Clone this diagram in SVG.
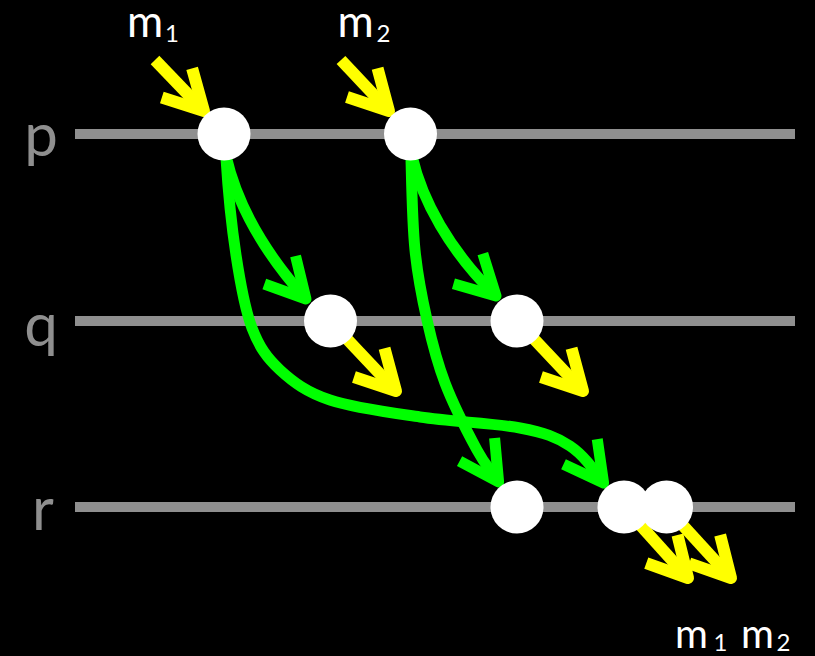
<svg xmlns="http://www.w3.org/2000/svg" width="815" height="656" viewBox="0 0 815 656">
<style>
.bg{fill:#000}
.tl{stroke:#8f8f8f;stroke-width:10;fill:none}
.g{stroke:#00ff00;stroke-width:11;fill:none}
.y{stroke:#ffff00;stroke-width:12;fill:none}
.ev{fill:#fff}
.lab{font-family:Lato,"Open Sans","Liberation Sans",sans-serif;fill:#8f8f8f;font-size:60px;text-anchor:middle}
.msg{font-family:Lato,"Open Sans","Liberation Sans",sans-serif;fill:#fff;text-anchor:middle}
</style>
<defs>
<marker id="hg" markerUnits="userSpaceOnUse" orient="auto" overflow="visible" markerWidth="10" markerHeight="10">
<path d="M-39,-21 L0,0 L-39,21" fill="none" stroke="#00ff00" stroke-width="11" stroke-linejoin="round"/>
</marker>
<marker id="hy" markerUnits="userSpaceOnUse" orient="auto" overflow="visible" markerWidth="10" markerHeight="10">
<path d="M-39,-21 L0,0 L-39,21" fill="none" stroke="#ffff00" stroke-width="12" stroke-linejoin="round"/>
</marker>
</defs>
<rect class="bg" x="0" y="0" width="815" height="656"/>
<g id="timelines">
<line class="tl" x1="75" y1="134" x2="795" y2="134"/>
<line class="tl" x1="75" y1="321" x2="795" y2="321"/>
<line class="tl" x1="75" y1="507" x2="795" y2="507"/>
<text class="lab" x="41" y="156">p</text>
<text class="lab" x="41" y="346">q</text>
<text class="lab" x="43" y="530">r</text>
</g>
<g id="connectors">
<path class="g" marker-end="url(#hg)" d="M226,156 C236,200 262,250 306,299"/>
<path class="g" marker-end="url(#hg)" d="M412,156 C422,200 449,250 496,296"/>
<path class="g" marker-end="url(#hg)" d="M226,158 C228,190.5 231.7,226.7 236,255 C240.3,283.3 244.7,308.8 252,328 C259.3,347.2 267,358 280,370 C293,382 306.7,392.2 330,400 C353.3,407.8 388.3,412.3 420,417 C451.7,421.7 495,423.2 520,428 C545,432.8 556.2,436.8 570,446 C583.8,455.2 593.6,469.5 603.6,483"/>
<path class="g" marker-end="url(#hg)" d="M411,158 C411.8,189.7 412.3,223 415,250 C417.7,277 422,297.8 427,320 C432,342.2 436.7,361.3 445,383 C453.3,404.7 468.2,433.7 477,450 C485.8,466.3 490,469 498.6,482"/>
<line class="y" marker-end="url(#hy)" x1="155" y1="60" x2="204" y2="111"/>
<line class="y" marker-end="url(#hy)" x1="341" y1="60" x2="389" y2="111"/>
<line class="y" marker-end="url(#hy)" x1="330" y1="321" x2="396" y2="391"/>
<line class="y" marker-end="url(#hy)" x1="517" y1="321" x2="583" y2="391"/>
<line class="y" marker-end="url(#hy)" x1="624" y1="507" x2="688" y2="578"/>
<line class="y" marker-end="url(#hy)" x1="666" y1="507" x2="731" y2="578"/>
</g>
<g id="p-m1"><circle class="ev" cx="224" cy="134" r="26.5"/></g>
<g id="p-m2"><circle class="ev" cx="410.5" cy="134" r="26.5"/></g>
<g id="q-m1"><circle class="ev" cx="330.5" cy="321" r="26.5"/></g>
<g id="q-m2"><circle class="ev" cx="517" cy="321" r="26.5"/></g>
<g id="r-m2"><circle class="ev" cx="517" cy="507" r="26.5"/></g>
<g id="r-m1"><circle class="ev" cx="624" cy="507" r="26.5"/></g>
<g id="r-m2b"><circle class="ev" cx="666.5" cy="507" r="26.5"/></g>
<g id="label-m1">
<text class="msg" x="145" y="37" font-size="44">m<tspan x="172" y="42" font-size="24">1</tspan></text>
</g>
<g id="label-m2">
<text class="msg" x="355.5" y="37" font-size="44">m<tspan x="383.5" y="42" font-size="24">2</tspan></text>
</g>
<g id="label-out">
<text class="msg" x="691.5" y="648" font-size="40">m<tspan x="720.5" y="651" font-size="24">1</tspan><tspan x="757.5" y="648" font-size="40">m</tspan><tspan x="783.5" y="651" font-size="24">2</tspan></text>
</g>
</svg>
